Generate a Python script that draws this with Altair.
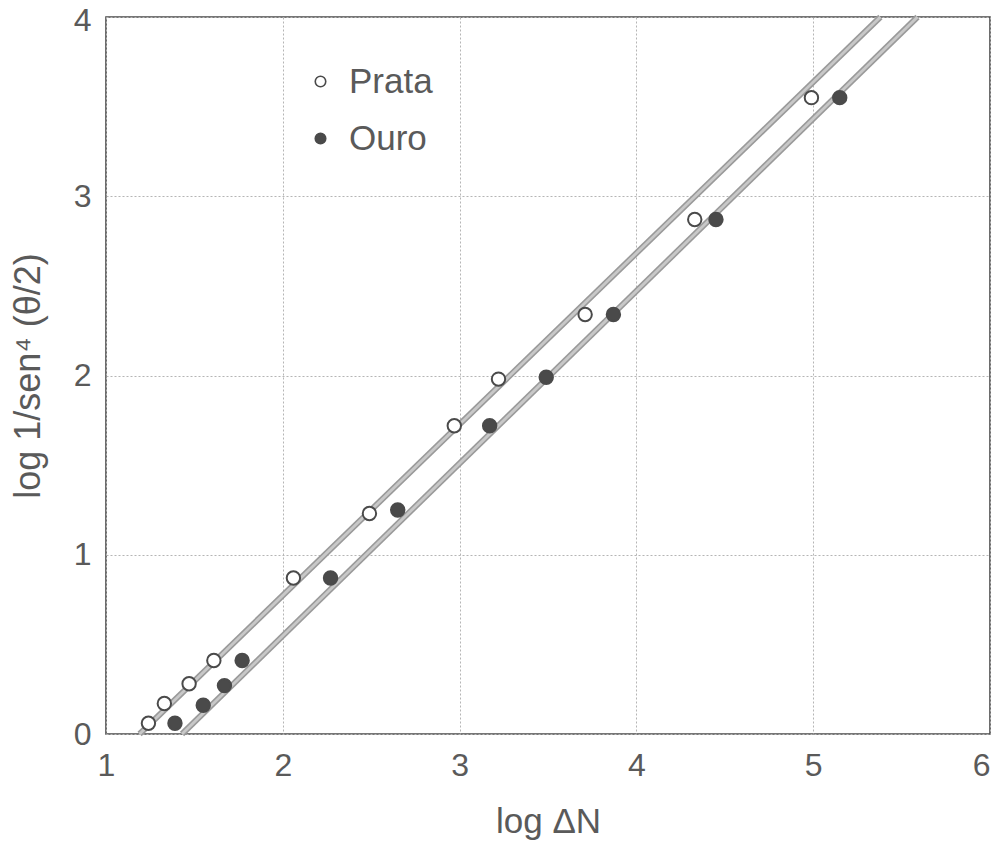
import altair as alt
import pandas as pd

# Data
prata_x = [1.24, 1.33, 1.47, 1.61, 2.06, 2.49, 2.97, 3.22, 3.71, 4.33, 4.99]
prata_y = [0.06, 0.17, 0.28, 0.41, 0.87, 1.23, 1.72, 1.98, 2.34, 2.87, 3.55]
ouro_x = [1.39, 1.55, 1.67, 1.77, 2.27, 2.65, 3.17, 3.49, 3.87, 4.45, 5.15]
ouro_y = [0.06, 0.16, 0.27, 0.41, 0.87, 1.25, 1.72, 1.99, 2.34, 2.87, 3.55]

# Fitted straight lines (endpoints at the bottom and top of the frame)
fit_prata_x = [1.19, 5.38]
fit_prata_y = [0.0, 4.0]
fit_ouro_x = [1.43, 5.59]
fit_ouro_y = [0.0, 4.0]

series = ["Prata", "Ouro"]
x_ticks = [1, 2, 3, 4, 5, 6]
y_ticks = [0, 1, 2, 3, 4]

pts = pd.DataFrame(
    {"x": prata_x + ouro_x,
     "y": prata_y + ouro_y,
     "metal": ["Prata"] * len(prata_x) + ["Ouro"] * len(ouro_x)}
)
fits = pd.DataFrame(
    {"x": fit_prata_x + fit_ouro_x,
     "y": fit_prata_y + fit_ouro_y,
     "metal": ["Prata"] * 2 + ["Ouro"] * 2}
)

W, H = 884, 717
FONT = "Liberation Sans"
TXT = "#5a5a5a"

xs = alt.Scale(domain=[1, 6], nice=False, zero=False)
ys = alt.Scale(domain=[0, 4], nice=False, zero=False)

xenc = alt.X(
    "x:Q", scale=xs,
    axis=alt.Axis(values=x_ticks, format="d", title="log ΔN", labelFlush=False,
                  ticks=False, domain=False, labelPadding=16,
                  labelFontSize=32, titleFontSize=35,
                  labelAlign=alt.condition("datum.value == 6", alt.value("right"), alt.value("center")),
                  titleX=W / 2, titleY=87, titleBaseline="middle",
                  grid=True),
)
yenc = alt.Y(
    "y:Q", scale=ys,
    axis=alt.Axis(values=y_ticks, format="d", title="log 1/sen⁴ (θ/2)", labelFlush=False,
                  ticks=False, domain=False, labelPadding=15,
                  labelFontSize=32, titleFontSize=36,
                  labelOffset=alt.condition("datum.value == 4", alt.value(3), alt.value(0)),
                  titleX=-78, titleY=H / 2, titleBaseline="middle",
                  grid=True),
)

line_outer = alt.Chart(fits).mark_line(color="#9a9a9a", strokeWidth=6).encode(
    x=xenc, y=yenc, detail="metal:N"
)
line_inner = alt.Chart(fits).mark_line(color="#c8c8c8", strokeWidth=2.8).encode(
    x="x:Q", y="y:Q", detail="metal:N"
)

points = alt.Chart(pts).mark_point(
    filled=True, shape="circle", size=180, stroke="#4a4a4a", strokeWidth=2, opacity=1
).encode(
    x="x:Q",
    y="y:Q",
    fill=alt.Fill(
        "metal:N",
        scale=alt.Scale(domain=series, range=["white", "#4a4a4a"]),
        legend=alt.Legend(
            title=None, orient="none", legendX=197, legendY=47,
            labelFontSize=35, labelFont=FONT, labelColor=TXT,
            symbolType="circle", symbolSize=110, symbolStrokeColor="#4a4a4a",
            symbolStrokeWidth=1.6, labelOffset=11, rowPadding=21, padding=0,
            symbolOpacity=1,
        ),
    ),
)

chart = (
    alt.layer(line_outer, line_inner, points)
    .properties(
        width=W, height=H,
        autosize=alt.AutoSizeParams(type="none"),
        padding={"left": 98, "top": 9, "right": 2, "bottom": 106},
    )
    .configure_view(stroke="#4a4a4a", strokeWidth=1.6)
    .configure_axis(
        labelFont=FONT, titleFont=FONT, labelColor=TXT, titleColor=TXT,
        titleFontWeight="normal", gridColor="#b5b5b5", gridDash=[2, 2],
        gridWidth=1, gridOpacity=1,
    )
)

chart.save("out.html", embed_options={"renderer": "svg", "actions": False})
